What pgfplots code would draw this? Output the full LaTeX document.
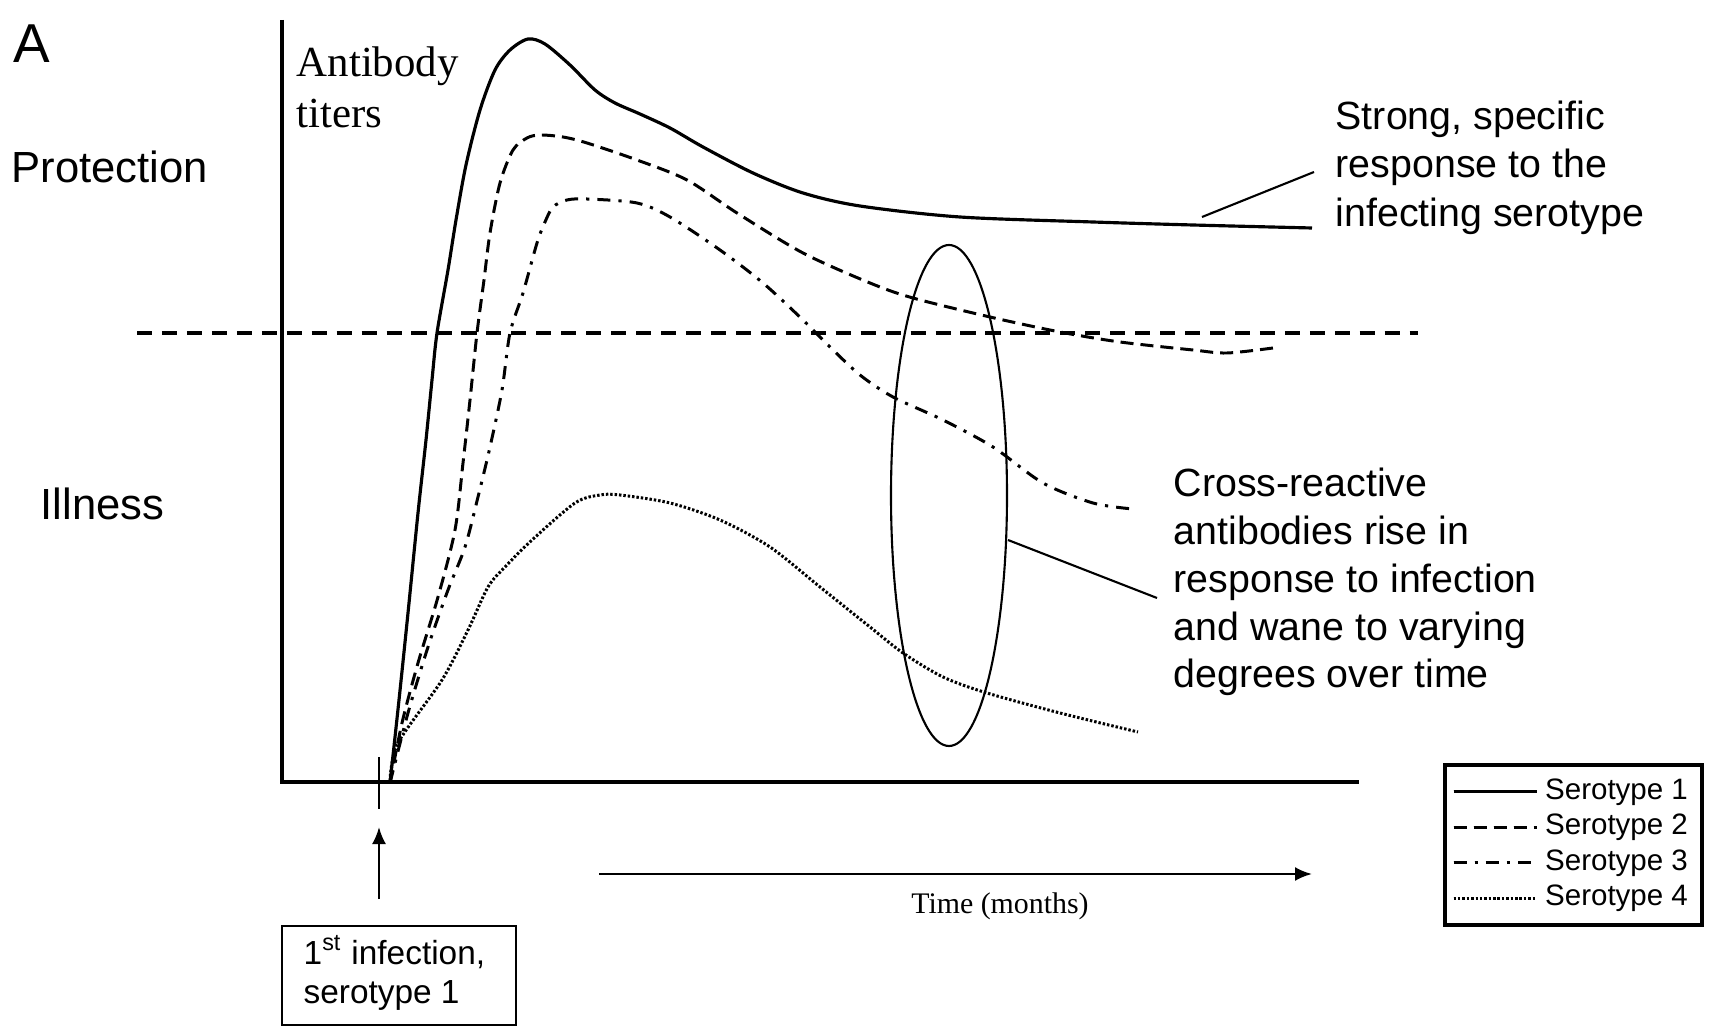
\documentclass[border=0pt]{standalone}
\usepackage{fontspec}
\setmainfont{Liberation Sans}
\newfontfamily\seriffont{Liberation Serif}
\usepackage{pgfplots}
\pgfplotsset{compat=1.18}
\usetikzlibrary{arrows.meta}
\begin{document}
\begin{tikzpicture}
\begin{axis}[
  width=171.4mm, height=102.8mm, scale only axis,
  xmin=0, xmax=1714, ymin=0, ymax=1028, y dir=reverse,
  hide axis, clip=false,
  legend style={at={(axis description cs:0.8419,0.2578)}, anchor=north west,
    draw=black, line width=1.1pt, font=\fontsize{8.4}{9.4}\selectfont,
    inner xsep=0.7mm, inner ysep=0.7mm, row sep=-1.3pt, cells={anchor=west}},
  legend image code/.code={\draw[#1] (0mm,0mm) -- (7.5mm,0mm); \path (0mm,0mm) -- (8.3mm,0mm);},
]
% invisible frame to fix the picture size
\path (axis cs:0,0) rectangle (axis cs:1714,1028);

% Serotype 1
\addplot[black, line width=0.9pt, smooth] coordinates {
(390,783) (399,700) (408,613) (418,513) (426,440) (432,380) (437,333) (448,270)
(456,220) (466,165) (480,110) (495,70) (510,50) (528,39) (545,44) (570,65)
(595,90) (615,103) (640,114) (670,128) (703,147) (753,173) (803,193) (860,206)
(960,217) (1093,222) (1193,225) (1312,228)};
\addlegendentry{Serotype 1}

% Serotype 2
\addplot[black, line width=0.85pt, smooth, dash pattern=on 3.7pt off 2pt] coordinates {
(390,783) (402,723) (418,663) (438,597) (455,530) (463,463) (470,400) (477,333)
(484,280) (490,233) (500,183) (513,150) (527,138) (540,135) (563,137) (587,143)
(637,160) (687,180) (737,213) (803,253) (870,283) (913,298) (990,317) (1060,332)
(1120,342) (1193,350) (1227,353) (1273,348)};
\addlegendentry{Serotype 2}

% Serotype 3
\addplot[black, line width=0.85pt, smooth, dash pattern=on 3.7pt off 2.3pt on 0.9pt off 2.3pt] coordinates {
(390,783) (408,713) (428,647) (448,590) (465,547) (478,497) (490,447) (502,390)
(510,333) (523,293) (537,243) (545,222) (553,207) (567,200) (587,199) (637,203)
(670,217) (720,250) (763,283) (803,320) (830,347) (860,375) (893,397) (943,420)
(993,447) (1043,483) (1093,503) (1133,509)};
\addlegendentry{Serotype 3}

% Serotype 4
\addplot[black, line width=0.85pt, smooth, dash pattern=on 0.7pt off 0.55pt] coordinates {
(390,781) (398,743) (442,680) (468,630) (488,587) (505,567) (532,540) (575,503)
(600,495) (620,495) (670,503) (720,520) (770,547) (820,587) (870,627) (903,653)
(943,677) (987,693) (1060,713) (1138,732)};
\addlegendentry{Serotype 4}

% axes
\draw[line width=0.9pt] (axis cs:282,20) -- (axis cs:282,782) -- (axis cs:1359,782);
% threshold
\draw[line width=1.1pt, dash pattern=on 4.3pt off 2.8pt] (axis cs:137,333) -- (axis cs:1418,333);
% infection tick and arrow
\draw[line width=0.7pt] (axis cs:379,757) -- (axis cs:379,809);
\draw[line width=0.7pt, -{Latex[length=1.7mm,width=1.4mm]}] (axis cs:379,899) -- (axis cs:379,827);
\draw[line width=0.8pt] (axis cs:282,926) rectangle (axis cs:516,1025);
\node[anchor=base west, inner sep=0, font=\fontsize{9.5}{11}\selectfont] at (axis cs:303,964) {1\textsuperscript{st} infection,};
\node[anchor=base west, inner sep=0, font=\fontsize{9.5}{11}\selectfont] at (axis cs:303,1003) {serotype 1};
% time arrow
\draw[line width=0.7pt, -{Latex[length=1.7mm,width=1.4mm]}] (axis cs:599,874) -- (axis cs:1312,874);
\node[anchor=base, inner sep=0, font=\seriffont\fontsize{8.5}{10}\selectfont] at (axis cs:1000,913) {Time (months)};
% ellipse and leaders
\draw[line width=0.6pt] (axis cs:949,495.5) ellipse [x radius=5.8mm, y radius=25.05mm];
\draw[line width=0.6pt] (axis cs:1008,540) -- (axis cs:1157,598);
\draw[line width=0.6pt] (axis cs:1202,217) -- (axis cs:1314,172);
% texts
\node[anchor=base west, inner sep=0, font=\fontsize{15.6}{18}\selectfont] at (axis cs:13,63) {A};
\node[anchor=base west, inner sep=0, font=\fontsize{12.4}{14}\selectfont] at (axis cs:11,183) {Protection};
\node[anchor=base west, inner sep=0, font=\fontsize{12.4}{14}\selectfont] at (axis cs:40,520) {Illness};
\node[anchor=base west, inner sep=0, font=\seriffont\fontsize{12.2}{14}\selectfont] at (axis cs:296,77) {Antibody};
\node[anchor=base west, inner sep=0, font=\seriffont\fontsize{12.2}{14}\selectfont] at (axis cs:296,128) {titers};
\node[anchor=base west, inner sep=0, font=\fontsize{11.2}{13}\selectfont] at (axis cs:1335,130) {Strong, specific};
\node[anchor=base west, inner sep=0, font=\fontsize{11.2}{13}\selectfont] at (axis cs:1335,178) {response to the};
\node[anchor=base west, inner sep=0, font=\fontsize{11.2}{13}\selectfont] at (axis cs:1335,227) {infecting serotype};
\node[anchor=base west, inner sep=0, font=\fontsize{11.2}{13}\selectfont] at (axis cs:1173,497) {Cross-reactive};
\node[anchor=base west, inner sep=0, font=\fontsize{11.2}{13}\selectfont] at (axis cs:1173,545) {antibodies rise in};
\node[anchor=base west, inner sep=0, font=\fontsize{11.2}{13}\selectfont] at (axis cs:1173,593) {response to infection};
\node[anchor=base west, inner sep=0, font=\fontsize{11.2}{13}\selectfont] at (axis cs:1173,640) {and wane to varying};
\node[anchor=base west, inner sep=0, font=\fontsize{11.2}{13}\selectfont] at (axis cs:1173,687) {degrees over time};
\end{axis}
\end{tikzpicture}
\end{document}
